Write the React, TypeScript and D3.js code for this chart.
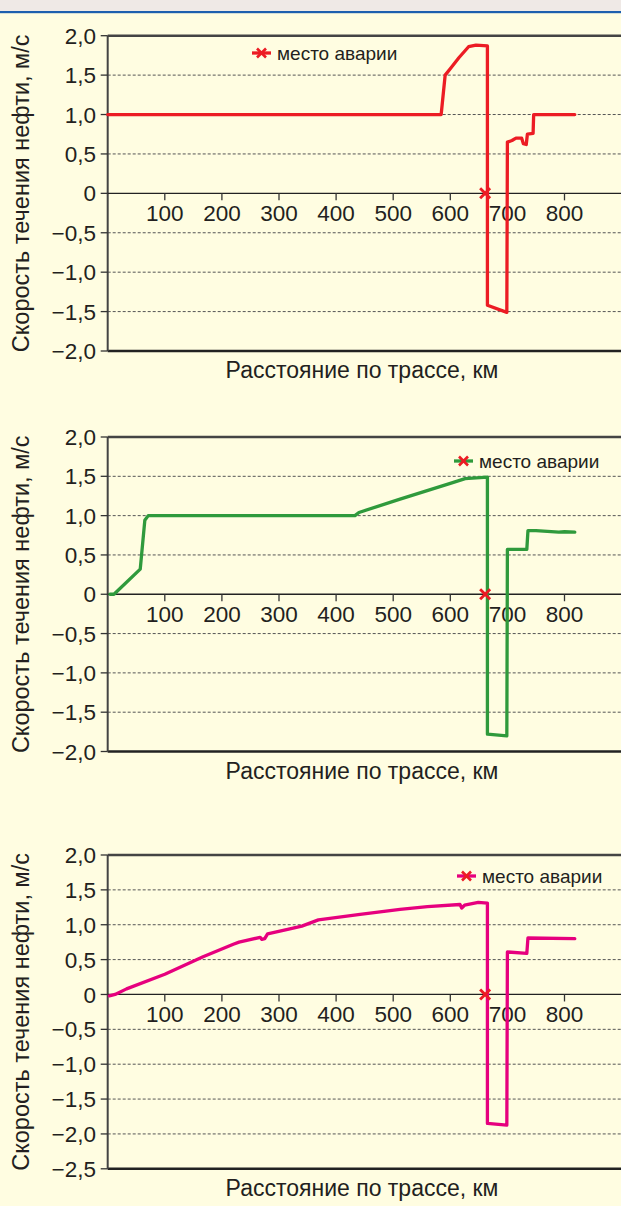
import { useEffect } from "react";
import * as d3 from "d3";

// --- data (km along route, oil speed m/s) ---
const distTicks = [100, 200, 300, 400, 500, 600, 700, 800];
const speedTicks4 = [2, 1.5, 1, 0.5, 0, -0.5, -1, -1.5, -2];
const speedTicks5 = [2, 1.5, 1, 0.5, 0, -0.5, -1, -1.5, -2, -2.5];
const accidentKm = 661;

const kmRed = [0, 584, 591, 602, 615, 632, 645, 665, 665, 699, 700, 708, 715, 725, 728, 733, 735, 745, 746, 818];
const speedRed = [1.0, 1.0, 1.5, 1.6, 1.72, 1.86, 1.88, 1.87, -1.42, -1.51, 0.65, 0.67, 0.7, 0.7, 0.63, 0.62, 0.75, 0.76, 1.0, 1.0];

const kmGreen = [4, 11, 57, 65, 71, 433, 440, 512, 600, 626, 665, 665, 699, 700, 734, 736, 750, 770, 790, 800, 818];
const speedGreen = [0, 0, 0.32, 0.94, 1.0, 1.0, 1.04, 1.21, 1.41, 1.47, 1.49, -1.78, -1.8, 0.57, 0.57, 0.81, 0.81, 0.8, 0.79, 0.795, 0.79];

const kmPink = [3, 13, 33, 100, 167, 220, 230, 267, 270, 275, 280, 319, 340, 369, 442, 512, 560, 617, 620, 625, 649, 665, 665, 699, 700, 734, 736, 818];
const speedPink = [-0.02, 0.0, 0.08, 0.29, 0.54, 0.72, 0.75, 0.82, 0.79, 0.8, 0.87, 0.94, 0.98, 1.07, 1.15, 1.22, 1.26, 1.29, 1.24, 1.28, 1.32, 1.31, -1.85, -1.875, 0.61, 0.59, 0.81, 0.8];

const legendText = "место аварии";
const xTitle = "Расстояние по трассе, км";
const yTitle = "Скорость течения нефти, м/с";

const FONT = "'Liberation Sans', Arial, sans-serif";
const RED = "#ec1c24";
const INK = "#231f20";

function fmt(v: number) {
    if (v === 0) return "0";
    const s = Math.abs(v).toFixed(1).replace(".", ",");
    return v < 0 ? "\u2212" + s : s;
}

function Panel({ top, bottom, ticks, km, speed, color, legendX, legendY }: any) {
    const x = d3.scaleLinear().domain([0, 900]).range([107.7, 621.6]);
    const y = d3.scaleLinear().domain([d3.min(ticks) as number, 2]).range([bottom, top]);
    const line = d3.line<number>().x((d, i) => x(km[i])).y(d => y(d));
    const y0 = y(0);
    const left = x(0);
    const right = 640;
    const grid = ticks.filter((t: number) => t !== 0 && t !== 2 && y(t) < bottom - 1);

    return (
        <g fontFamily={FONT}>
            {/* dashed grid */}
            {grid.map((t: number) => (
                <line key={t} x1={left} x2={right} y1={y(t)} y2={y(t)}
                    stroke="#555" strokeWidth={1} strokeDasharray="3,2" />
            ))}
            {/* frame */}
            <line x1={left} x2={right} y1={top} y2={top} stroke="#444" strokeWidth={2.5} />
            <line x1={left} x2={right} y1={bottom} y2={bottom} stroke="#222" strokeWidth={2.5} />
            <line x1={left} x2={left} y1={top} y2={bottom} stroke="#444" strokeWidth={2} />
            <line x1={left} x2={right} y1={y0} y2={y0} stroke="#222" strokeWidth={1.3} />

            {/* y ticks */}
            {ticks.map((t: number) => (
                <g key={t}>
                    <line x1={left - 7} x2={left} y1={y(t)} y2={y(t)} stroke="#333" strokeWidth={1.3} />
                    <text x={96} y={y(t)} dy="0.36em" textAnchor="end" fontSize={22.5} fill={INK}>
                        {fmt(t)}
                    </text>
                </g>
            ))}

            {/* x ticks on the zero line */}
            {distTicks.map(t => (
                <g key={t}>
                    <line x1={x(t)} x2={x(t)} y1={y0} y2={y0 + 7} stroke="#333" strokeWidth={1.3} />
                    <text x={x(t)} y={y0 + 28} textAnchor="middle" fontSize={22.5} fill={INK}>
                        {t}
                    </text>
                </g>
            ))}

            {/* series */}
            <path d={line(speed) || ""} fill="none" stroke={color} strokeWidth={3.3}
                strokeLinejoin="round" strokeLinecap="round" />

            {/* accident mark */}
            <g stroke={RED} strokeWidth={2.8}>
                <line x1={x(accidentKm) - 5} x2={x(accidentKm) + 5} y1={y0 - 5} y2={y0 + 5} />
                <line x1={x(accidentKm) - 5} x2={x(accidentKm) + 5} y1={y0 + 5} y2={y0 - 5} />
            </g>

            {/* legend */}
            <line x1={legendX} x2={legendX + 19} y1={legendY} y2={legendY} stroke={color} strokeWidth={3.3} />
            <g stroke={RED} strokeWidth={2.6}>
                <line x1={legendX + 5} x2={legendX + 14} y1={legendY - 4.5} y2={legendY + 4.5} />
                <line x1={legendX + 5} x2={legendX + 14} y1={legendY + 4.5} y2={legendY - 4.5} />
            </g>
            <text x={legendX + 25} y={legendY} dy="0.36em" fontSize={19} fill={INK}>{legendText}</text>

            {/* axis titles */}
            <text x={362} y={bottom + 27} textAnchor="middle" fontSize={23} fill={INK}>{xTitle}</text>
            <text transform={`translate(29,${(top + bottom) / 2}) rotate(-90)`} textAnchor="middle"
                fontSize={23.5} fill={INK}>{yTitle}</text>
        </g>
    );
}

export default function App() {
    useEffect(() => {
        document.body.style.margin = "0";
    }, []);

    return (
        <svg width={621} height={1206} style={{ display: "block", position: "absolute", left: 0, top: 0 }}>
            <rect x={0} y={0} width={621} height={1206} fill="#fffde1" />
            <rect x={0} y={0} width={621} height={11} fill="#efe9e6" />
            <rect x={0} y={11} width={621} height={2.2} fill="#1d5fae" />

            <Panel top={35.7} bottom={351} ticks={speedTicks4} km={kmRed} speed={speedRed}
                color={RED} legendX={252} legendY={53} />
            <Panel top={437} bottom={751.5} ticks={speedTicks4} km={kmGreen} speed={speedGreen}
                color="#2f9a3c" legendX={454} legendY={461} />
            <Panel top={855} bottom={1168.8} ticks={speedTicks5} km={kmPink} speed={speedPink}
                color="#e6007e" legendX={457} legendY={876} />
        </svg>
    );
}
